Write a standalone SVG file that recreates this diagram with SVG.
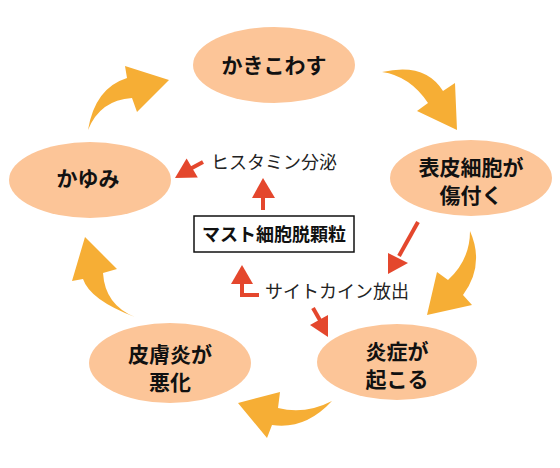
<svg xmlns="http://www.w3.org/2000/svg" width="560" height="468" viewBox="0 0 560 468">
<style>
.node{fill:#FCC598;}
.lbl{font-family:"Noto Sans CJK JP","Noto Sans",sans-serif;font-weight:bold;font-size:21px;fill:#111;text-anchor:middle;}
.small{font-family:"Noto Sans CJK JP","Noto Sans",sans-serif;font-size:18px;fill:#222;}
.cyc{fill:#F6AE35;}
.red{fill:#E4472D;}
.redline{stroke:#E4472D;stroke-width:4;fill:none;}
</style>
<rect width="560" height="468" fill="#fff"/>
<g id="connectors">
  <path class="cyc" d="M88,130 Q95,88 127,78 L125,66 L169,80 L137,112 L132,98 Q100,100 88,130 Z"/>
  <path class="cyc" d="M382,72 Q425,62 443,91 L455,83 L457,130 L417,111 L428,103 Q410,76 382,72 Z"/>
  <path class="cyc" d="M470,231 Q485,265 463,295 L472,305 L427,315 L437,272 L448,280 Q470,260 470,231 Z"/>
  <path class="cyc" d="M332,401 Q305,430 272,425 L267,438 L238,403 L280,392 L278,408 Q305,415 332,401 Z"/>
  <path class="cyc" d="M135,317 Q90,300 83,279 L72,281 L85,237 L117,269 L103,273 Q105,305 135,317 Z"/>
  <line class="redline" x1="203" y1="162" x2="190" y2="169"/>
  <polygon class="red" points="175,178 186.6,158.5 197.8,177.5"/>
  <line class="redline" x1="263" y1="210" x2="263" y2="196"/>
  <polygon class="red" points="263,178 252,198 275,198"/>
  <polyline class="redline" points="259,295 242,295 242,282"/>
  <polygon class="red" points="242,265 231,284 253,284"/>
  <line class="redline" x1="418" y1="222" x2="399" y2="256"/>
  <polygon class="red" points="388,274 388,253 408,263"/>
  <line class="redline" x1="313" y1="308" x2="321" y2="322"/>
  <polygon class="red" points="328,337 310,325 328,315"/>
</g>
<g id="n-kakikowasu">
  <ellipse class="node" cx="274" cy="65" rx="81" ry="38"/>
  <text class="lbl" x="274" y="73">かきこわす</text>
</g>
<g id="n-hyohi">
  <ellipse class="node" cx="471" cy="178" rx="81" ry="38"/>
  <text class="lbl" x="471" y="175">表皮細胞が</text>
  <text class="lbl" x="471" y="203">傷付く</text>
</g>
<g id="n-ensho">
  <ellipse class="node" cx="397" cy="362" rx="80" ry="38"/>
  <text class="lbl" x="397" y="359">炎症が</text>
  <text class="lbl" x="397" y="387">起こる</text>
</g>
<g id="n-hifuen">
  <ellipse class="node" cx="170" cy="363" rx="81" ry="40"/>
  <text class="lbl" x="170" y="362">皮膚炎が</text>
  <text class="lbl" x="170" y="390">悪化</text>
</g>
<g id="n-kayumi">
  <ellipse class="node" cx="90" cy="180" rx="81" ry="38"/>
  <text class="lbl" x="88" y="186">かゆみ</text>
</g>
<g id="n-mast">
  <rect x="194" y="216" width="160" height="36" fill="#fff" stroke="#111" stroke-width="1.5"/>
  <text class="lbl" style="font-size:18px" x="274" y="241">マスト細胞脱顆粒</text>
</g>
<g id="labels">
  <text class="small" x="211" y="169">ヒスタミン分泌</text>
  <text class="small" x="265" y="298">サイトカイン放出</text>
</g>
</svg>
